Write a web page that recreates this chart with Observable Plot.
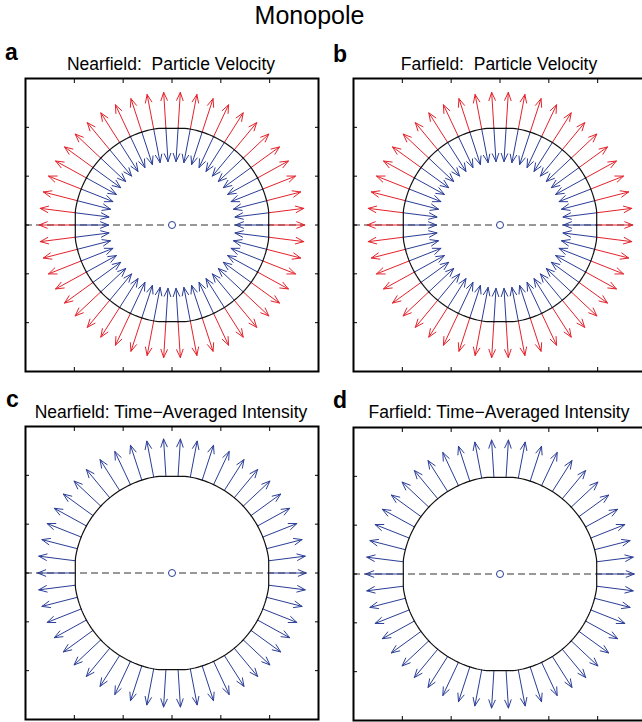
<!DOCTYPE html>
<html>
<head>
<meta charset="utf-8">
<script src="https://cdn.jsdelivr.net/npm/d3@7"></script>
<script src="https://cdn.jsdelivr.net/npm/@observablehq/plot@0.6"></script>
<style>
  html, body { margin: 0; padding: 0; background: #fff; }
  #fig { position: relative; width: 642px; height: 722px; overflow: hidden; background: #fff;
         font-family: "Liberation Sans", Arial, Helvetica, sans-serif; color: #000; }
  .txt { position: absolute; white-space: pre; line-height: 1; }
  .panel { position: absolute; }
</style>
</head>
<body>
<div id="fig"></div>
<script>
// ---------- data ----------
const figureTitle = "Monopole";
const panelLetters = ["a", "b", "c", "d"];
const panelTitles = [
  "Nearfield:  Particle Velocity",
  "Farfield:  Particle Velocity",
  "Nearfield: Time\u2212Averaged Intensity",
  "Farfield: Time\u2212Averaged Intensity"
];
const panelKinds = ["velocity", "velocity", "intensity", "intensity"];
// arrow directions (degrees), 50 evenly spaced around the source
const directionsDeg = [
  0, 7.2, 14.4, 21.6, 28.8, 36, 43.2, 50.4, 57.6, 64.8,
  72, 79.2, 86.4, 93.6, 100.8, 108, 115.2, 122.4, 129.6, 136.8,
  144, 151.2, 158.4, 165.6, 172.8, 180, 187.2, 194.4, 201.6, 208.8,
  216, 223.2, 230.4, 237.6, 244.8, 252, 259.2, 266.4, 273.6, 280.8,
  288, 295.2, 302.4, 309.6, 316.8, 324, 331.2, 338.4, 345.6, 352.8
];
const circleRadius = 2;
// arrow lengths per panel (outward, inward); 0 = none
const outwardLength = [0.72, 0.72, 0.75, 0.75];
const inwardLength  = [0.70, 0.70, 0, 0];
const tickValues = [-2, -1, 0, 1, 2];
const axisDomain = [-3, 3];

// ---------- styles ----------
const RED = "#e3222b";
const BLUE = "#2a3d96";
const panelPos = [
  {left: 22, top: 75}, {left: 350, top: 75},
  {left: 22, top: 423}, {left: 350, top: 424}
];
const titleCenters = [171, 499, 171, 499];
const titleBaselines = [71, 71, 419, 419];
const letterPos = [
  {left: 5, base: 60}, {left: 333, base: 62},
  {left: 6, base: 407}, {left: 333, base: 408}
];

const fig = document.getElementById("fig");
function addText(str, {left, top, width, align = "left", size, weight = "normal"}) {
  const d = document.createElement("div");
  d.className = "txt";
  d.textContent = str;
  d.style.left = left + "px";
  d.style.top = top + "px";
  if (width != null) d.style.width = width + "px";
  d.style.textAlign = align;
  d.style.fontSize = size + "px";
  d.style.fontWeight = weight;
  fig.appendChild(d);
}
const asc = 0.8465;
addText(figureTitle, {left: 0, top: 24 - asc * 25, width: 619, align: "center", size: 25});

const S = 293, M = 3, TL = 4;

panelLetters.forEach((letter, i) => {
  addText(letter, {left: letterPos[i].left, top: letterPos[i].base - asc * 23, size: 23, weight: "bold"});
  addText(panelTitles[i], {left: titleCenters[i] - 200, top: titleBaselines[i] - asc * 17.5, width: 400, align: "center", size: 17.5});

  const out = [], inn = [];
  directionsDeg.forEach(deg => {
    const t = deg * Math.PI / 180, c = Math.cos(t), s = Math.sin(t);
    out.push({x1: circleRadius * c, y1: circleRadius * s,
              x2: (circleRadius + outwardLength[i]) * c, y2: (circleRadius + outwardLength[i]) * s});
    if (inwardLength[i] > 0)
      inn.push({x1: circleRadius * c, y1: circleRadius * s,
                x2: (circleRadius - inwardLength[i]) * c, y2: (circleRadius - inwardLength[i]) * s});
  });
  // circle outline (slightly flattened at the cardinal points, like the original contour)
  const lim = circleRadius * 0.99;
  const ring = d3.range(0, 360, 1.5).map(a => {
    const t = a * Math.PI / 180;
    return {x: Math.max(-lim, Math.min(lim, circleRadius * Math.cos(t))),
            y: Math.max(-lim, Math.min(lim, circleRadius * Math.sin(t)))};
  });
  const outColor = panelKinds[i] === "velocity" ? RED : BLUE;
  const arrowOpts = {x1: "x1", y1: "y1", x2: "x2", y2: "y2", strokeWidth: 1, headAngle: 44, headLength: 13};
  const tk = {ticks: tickValues, tickSize: TL, tickFormat: () => "", label: null, stroke: "#000"};

  const chart = Plot.plot({
    width: S + 2 * M, height: S + 2 * M,
    marginTop: M, marginRight: M, marginBottom: M, marginLeft: M,
    x: {domain: axisDomain, axis: null},
    y: {domain: axisDomain, axis: null},
    style: {background: "transparent", overflow: "visible"},
    marks: [
      Plot.ruleY([0], {x1: axisDomain[0], x2: circleRadius + outwardLength[i], stroke: "#333", strokeWidth: 1.2, strokeDasharray: "7,4"}),
      Plot.arrow(inn, {...arrowOpts, stroke: BLUE}),
      Plot.arrow(out, {...arrowOpts, stroke: outColor}),
      Plot.line(ring, {x: "x", y: "y", curve: "linear-closed", stroke: "#111", strokeWidth: 1.2}),
      Plot.dot([{x: 0, y: 0}], {x: "x", y: "y", r: 3.5, stroke: BLUE, fill: "white", strokeWidth: 1}),
      Plot.axisX({anchor: "bottom", ...tk, dy: -TL}),
      Plot.axisX({anchor: "top", ...tk, dy: TL}),
      Plot.axisY({anchor: "left", ...tk, dx: TL}),
      Plot.axisY({anchor: "right", ...tk, dx: -TL}),
      Plot.frame({stroke: "#000", strokeWidth: 2})
    ]
  });
  chart.classList.add("panel");
  chart.style.left = panelPos[i].left + "px";
  chart.style.top = panelPos[i].top + "px";
  fig.appendChild(chart);
});
</script>
</body>
</html>
